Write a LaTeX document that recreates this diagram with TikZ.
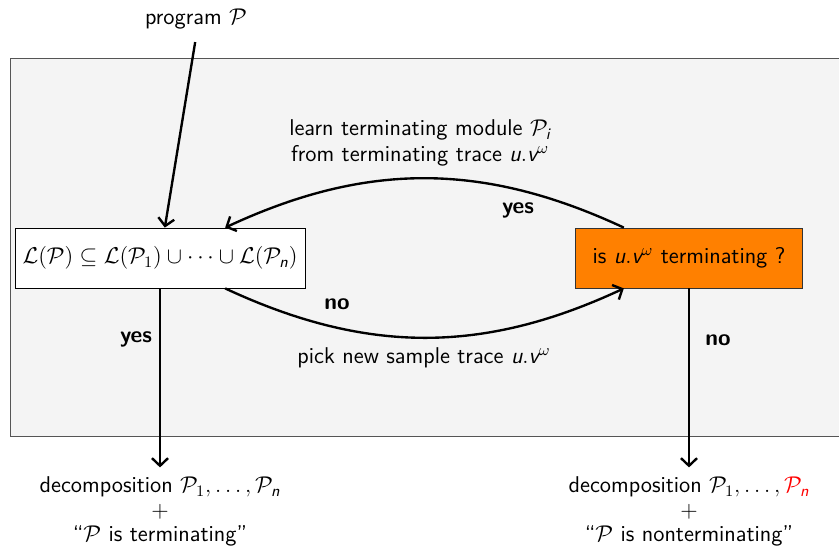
\RequirePackage{fix-cm}
\documentclass[11pt,tikz,border=0pt]{standalone}
\usepackage{amsmath}
\usepackage{amssymb}
\usetikzlibrary{arrows.meta}
\renewcommand{\familydefault}{\sfdefault}
\newcommand{\svar}[1]{\textit{#1}}
\definecolor{boxorange}{RGB}{255,128,0}
\definecolor{panelgray}{RGB}{244,244,244}
\definecolor{panelline}{RGB}{85,85,85}
\tikzset{
  flow/.style={-{Straight Barb[length=4.5pt,width=9.5pt]},line width=1.4pt},
  condbox/.style={draw,fill=white,minimum width=6.03cm,minimum height=1.25cm,inner sep=1pt},
  checkbox/.style={draw=black!80,fill=boxorange,minimum width=4.72cm,minimum height=1.25cm},
  answer/.style={font=\bfseries},
  result/.style={align=center,anchor=north,inner sep=1pt}
}
\begin{document}
\fontsize{13.5}{14.3}\selectfont
\begin{tikzpicture}[x=0.0208cm,y=0.0208cm]
\useasboundingbox (0,0) rectangle (839,-545);
% background panel, runs off the right edge
\begin{scope}
  \clip (0,0) rectangle (839,-545);
  \draw[panelline,fill=panelgray] (10,-58) rectangle (870,-436);
\end{scope}
\node (prog) at (196,-19) {program $\mathcal{P}$};
\node[condbox] (cond) at (160,-258) {$\mathcal{L}(\mathcal{P})\subseteq\mathcal{L}(\mathcal{P}_1)\cup\cdots\cup\mathcal{L}(\mathcal{P}_{\svar{n}})$};
\node[checkbox] (check) at (689,-258) {is $\svar{u}.\svar{v}^\omega$ terminating ?};
\node[align=center] (learn) at (420,-143) {learn terminating module $\mathcal{P}_{\svar{i}}$\\[1pt] from terminating trace $\svar{u}.\svar{v}^\omega$};
\node (pick) at (424,-358) {pick new sample trace $\svar{u}.\svar{v}^\omega$};
\node[answer] (yesloop) at (518,-210) {yes};
\node[answer] (noloop) at (337,-304) {no};
\node[answer] (yesdown) at (136,-339) {yes};
\node[answer] (nodown) at (718,-340) {no};
\node[result] (res1) at (160,-475) {decomposition $\mathcal{P}_1,\ldots,\mathcal{P}_{\svar{n}}$\\ $+$\\ ``$\mathcal{P}$ is terminating''};
\node[result] (res2) at (689,-475) {decomposition $\mathcal{P}_1,\ldots,\textcolor{red}{\mathcal{P}_{\svar{n}}}$\\ $+$\\ ``$\mathcal{P}$ is nonterminating''};
% connectors
\draw[flow,shorten <=3pt] (prog.south) -- ([xshift=0.1cm]cond.north);
\draw[flow] (check.155) to[out=155,in=25] (cond.25);
\draw[flow] (cond.-25) to[out=-25,in=205] (check.205);
\draw[flow,shorten >=4.5pt] (cond.south) -- (res1.north);
\draw[flow,shorten >=4.5pt] (check.south) -- (res2.north);
\end{tikzpicture}
\end{document}
